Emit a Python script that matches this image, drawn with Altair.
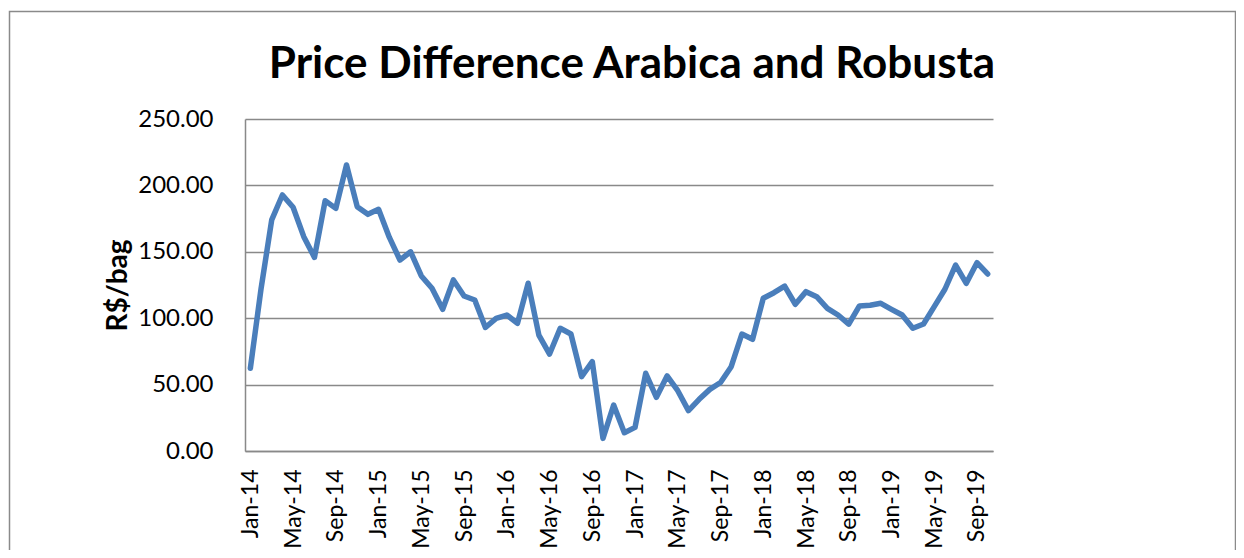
import altair as alt
import pandas as pd

month_names = ["Jan", "Feb", "Mar", "Apr", "May", "Jun",
               "Jul", "Aug", "Sep", "Oct", "Nov", "Dec"]
years = ["14", "15", "16", "17", "18", "19"]
months = [f"{m}-{y}" for y in years for m in month_names][:70]

diff = [62.3, 122.0, 174.0, 192.8, 183.5, 161.4, 145.8, 188.5, 182.7, 215.4,
        184.0, 178.2, 182.0, 161.0, 143.8, 150.0, 131.8, 122.5, 106.7, 128.8,
        116.7, 113.7, 93.0, 99.9, 102.4, 96.2, 126.3, 87.3, 73.0, 92.4,
        88.1, 56.0, 67.3, 9.5, 34.6, 13.8, 17.8, 58.5, 40.4, 56.5,
        45.4, 30.4, 38.9, 46.4, 51.6, 63.5, 88.1, 84.1, 115.0, 119.2,
        124.2, 110.5, 120.0, 116.2, 107.4, 102.4, 95.5, 109.2, 109.7, 111.2,
        106.7, 102.4, 92.4, 95.6, 108.7, 121.8, 140.0, 126.3, 141.8, 133.3]

tick_months = months[::4]
y_ticks = [0, 50, 100, 150, 200, 250]
title_text = "Price Difference Arabica and Robusta"

df = pd.DataFrame({"month": months, "diff": diff})

GRID = "#898989"
FONT = "Lato"

frame = alt.Chart(alt.Data(values=[{}])).mark_rect(
    fill="transparent", stroke="#8a8a8a", strokeWidth=1.5
).encode(
    x=alt.value(-235.5), x2=alt.value(990.5),
    y=alt.value(-107.5), y2=alt.value(470)
)

title = alt.Chart(alt.Data(values=[{"t": title_text}])).mark_text(
    font=FONT, fontSize=44, fontWeight="bold", color="black",
    align="center", baseline="alphabetic"
).encode(
    x=alt.value(387), y=alt.value(-41), text="t:N"
)

line = alt.Chart(df).mark_line(
    color="#4a7ebb", strokeWidth=5.5, strokeJoin="round", strokeCap="round"
).encode(
    x=alt.X("month:O", sort=None,
            scale=alt.Scale(type="point", padding=0.5),
            axis=alt.Axis(values=tick_months, labelAngle=-90, labelPadding=18,
                          ticks=False, domainColor=GRID, domainWidth=1.5,
                          title=None, labelFont=FONT, labelFontSize=23,
                          labelColor="black", grid=False)),
    y=alt.Y("diff:Q",
            scale=alt.Scale(domain=[0, 250], nice=False),
            axis=alt.Axis(values=y_ticks, format=".2f", ticks=False,
                          labelPadding=32, labelFont=FONT, labelFontSize=24,
                          labelColor="black", domainColor=GRID, domainWidth=1.5,
                          gridColor=GRID, gridWidth=1.5,
                          title="R$/bag", titleFont=FONT, titleFontSize=28,
                          titleFontWeight="bold", titleColor="black",
                          titleAngle=-90, titleX=-127, titleY=166,
                          titleAlign="center", titleBaseline="middle"))
)

chart = alt.layer(frame, title, line).properties(
    width=748, height=332,
    autosize=alt.AutoSizeParams(type="none"),
    padding={"left": 237, "top": 111, "right": 243, "bottom": 99},
).configure_view(stroke=None)

chart.save("out.html", embed_options={"renderer": "svg", "actions": False})
